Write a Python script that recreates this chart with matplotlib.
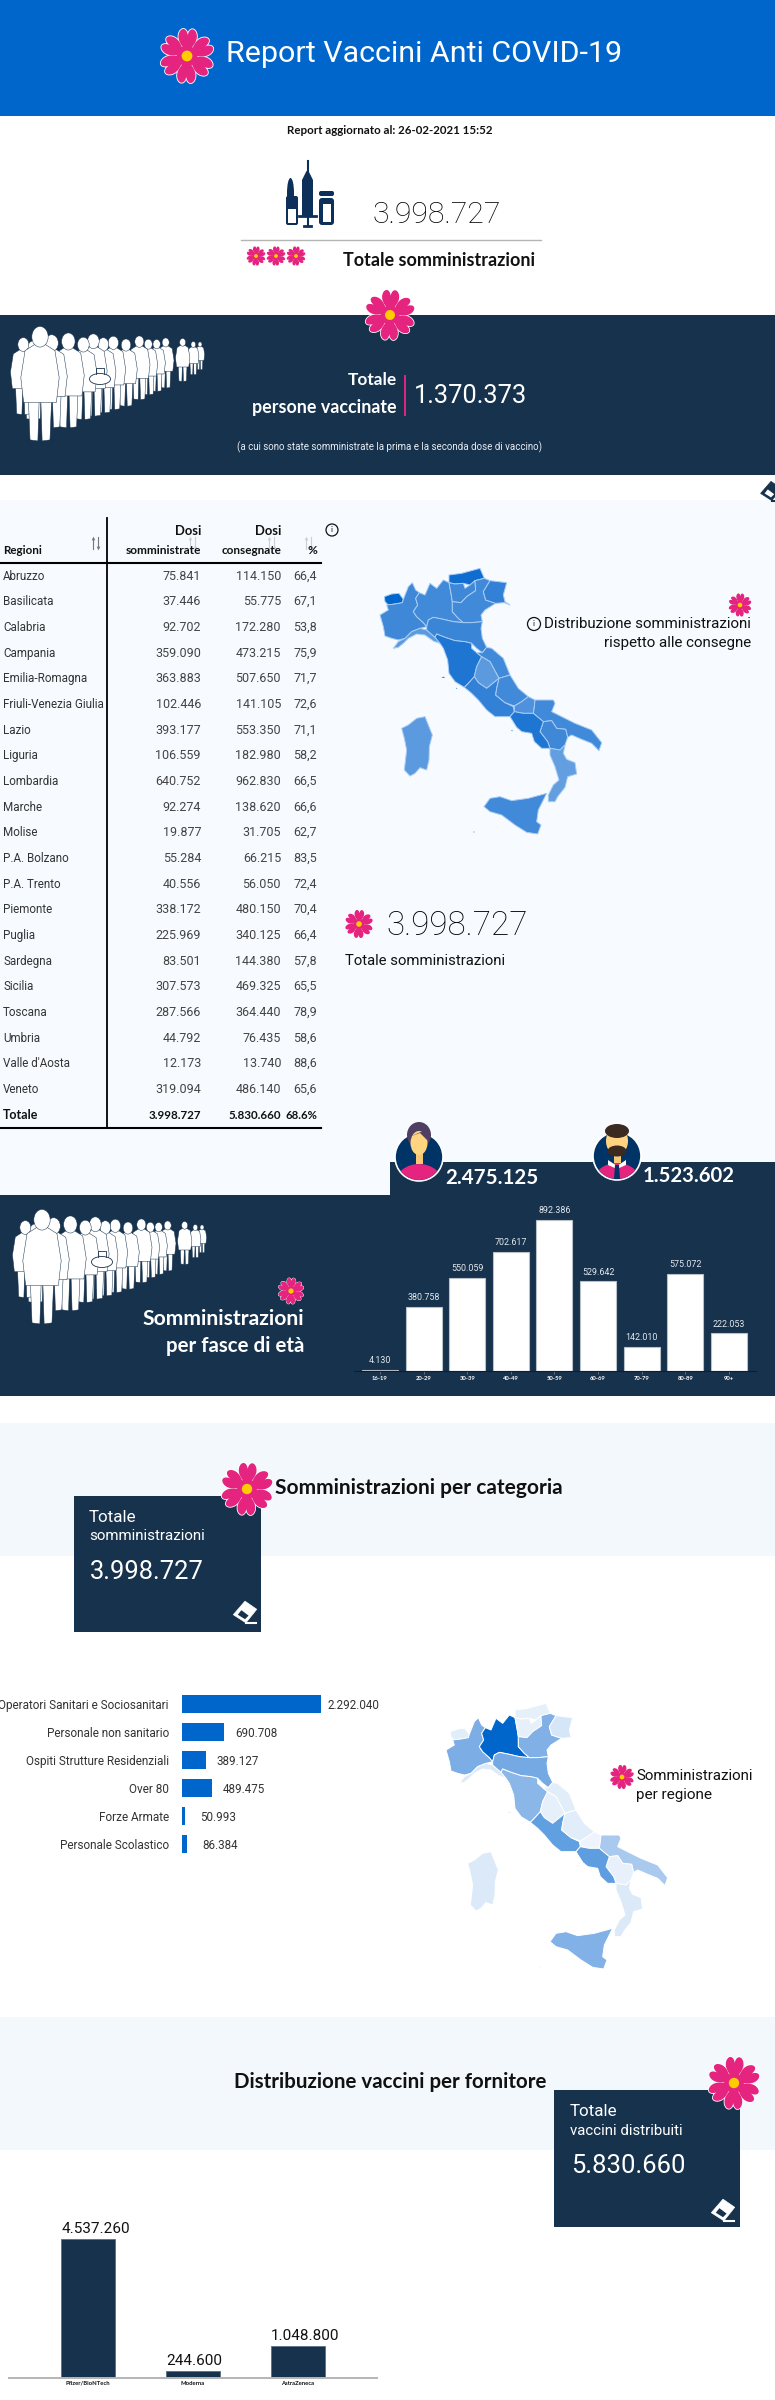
import numpy as np
import matplotlib; matplotlib.use("Agg")
import matplotlib.pyplot as plt
from matplotlib.patches import Polygon, Circle, Ellipse, Rectangle, FancyBboxPatch

W,H=775,2400
NAVY="#17324d"; BLUE="#0066cc"; PINK="#e5247f"; PALE="#f7fbff"; PALE2="#f3f8fc"
FONT=["Lato","DejaVu Sans"]
LIGHT=["Roboto","DejaVu Sans"]

# table data
regioni=["Abruzzo","Basilicata","Calabria","Campania","Emilia-Romagna","Friuli-Venezia Giulia","Lazio","Liguria","Lombardia","Marche","Molise","P.A. Bolzano","P.A. Trento","Piemonte","Puglia","Sardegna","Sicilia","Toscana","Umbria","Valle d'Aosta","Veneto"]
somministrate=[75841,37446,92702,359090,363883,102446,393177,106559,640752,92274,19877,55284,40556,338172,225969,83501,307573,287566,44792,12173,319094]
consegnate=[114150,55775,172280,473215,507650,141105,553350,182980,962830,138620,31705,66215,56050,480150,340125,144380,469325,364440,76435,13740,486140]
percentuali=["66,4","67,1","53,8","75,9","71,7","72,6","71,1","58,2","66,5","66,6","62,7","83,5","72,4","70,4","66,4","57,8","65,5","78,9","58,6","88,6","65,6"]
totale_somm=3998727; totale_cons=5830660; totale_pct="68.6%"
persone_vaccinate=1370373; donne=2475125; uomini=1523602

fasce=["16-19","20-29","30-39","40-49","50-59","60-69","70-79","80-89","90+"]
fasce_val=[4130,380758,550059,702617,892386,529642,142010,575072,222053]
categorie=["Operatori Sanitari e Sociosanitari","Personale non sanitario","Ospiti Strutture Residenziali","Over 80","Forze Armate","Personale Scolastico"]
categorie_val=[2292040,690708,389127,489475,50993,86384]
categorie_pad=[7,11,11,11,15,15]
fornitori=["Pfizer/BioNTech","Moderna","AstraZeneca"]
fornitori_val=[4537260,244600,1048800]

# regions, traced outlines (map units, 3 units = 1 px)
ITALIA={
"Valle d'Aosta":[(28,110),(50,102),(72,100),(85,118),(82,128),(60,132),(40,135),(30,125)],
"Piemonte":[(85,118),(100,80),(112,68),(122,90),(133,98),(122,115),(128,135),(115,155),(125,170),(145,188),(155,200),(135,205),(110,215),(90,235),(70,240),(50,235),(30,228),(25,200),(15,165),(40,150),(35,135),(60,132),(82,128)],
"Liguria":[(55,265),(70,245),(90,235),(110,215),(135,205),(155,210),(180,232),(195,250),(175,243),(150,225),(125,222),(100,235),(85,250),(70,262)],
"Lombardia":[(133,98),(150,105),(165,70),(185,85),(205,60),(222,68),(228,100),(232,125),(232,155),(250,175),(265,188),(235,185),(205,178),(175,172),(160,180),(155,200),(145,188),(125,170),(115,155),(128,135),(122,115)],
"P.A. Bolzano":[(222,45),(260,40),(315,25),(328,55),(300,62),(285,75),(265,70),(240,72),(222,68)],
"P.A. Trento":[(222,68),(240,72),(265,70),(270,85),(285,75),(300,62),(302,92),(275,110),(258,128),(232,125),(228,100)],
"Veneto":[(300,62),(328,55),(345,62),(325,95),(332,120),(362,130),(330,150),(318,165),(322,185),(290,188),(265,188),(250,175),(232,155),(232,125),(258,128),(275,110),(302,92)],
"Friuli-Venezia Giulia":[(345,62),(395,68),(385,105),(390,125),(405,135),(388,128),(362,130),(332,120),(325,95)],
"Emilia-Romagna":[(160,180),(175,172),(205,178),(235,185),(265,188),(290,188),(322,185),(318,205),(322,235),(335,262),(322,278),(305,265),(290,250),(270,245),(240,242),(210,232),(185,222),(180,232),(155,210),(155,200)],
"Toscana":[(180,232),(185,222),(210,232),(240,242),(270,245),(290,250),(290,265),(305,278),(320,290),(305,320),(298,350),(278,372),(268,382),(240,365),(222,340),(218,300),(205,265),(195,250)],
"Marche":[(322,278),(335,262),(350,265),(385,295),(405,345),(372,355),(345,305),(320,290),(305,278)],
"Umbria":[(320,290),(345,305),(372,355),(335,385),(310,368),(298,350),(305,320)],
"Lazio":[(268,382),(278,372),(298,350),(310,368),(335,385),(372,355),(365,385),(362,405),(390,428),(415,440),(418,455),(405,470),(360,470),(335,450),(310,420),(290,400)],
"Abruzzo":[(372,355),(405,345),(430,385),(460,410),(440,425),(418,438),(390,428),(362,405),(365,385)],
"Molise":[(460,410),(480,420),(478,440),(475,460),(445,460),(418,455),(418,438),(440,425)],
"Puglia":[(480,420),(535,420),(540,430),(530,455),(600,490),(650,510),(680,548),(672,572),(650,550),(620,538),(590,525),(578,532),(572,508),(545,505),(530,482),(505,485),(475,460),(478,440)],
"Basilicata":[(505,485),(530,482),(545,505),(572,508),(578,532),(570,555),(555,570),(525,565),(518,545),(495,515)],
"Campania":[(405,470),(418,455),(445,460),(475,460),(505,485),(495,515),(518,545),(525,565),(500,565),(478,545),(470,520),(440,515),(425,502)],
"Calabria":[(525,565),(555,570),(570,555),(565,580),(575,598),(600,608),(605,642),(578,650),(570,682),(548,710),(540,725),(520,725),(520,705),(535,675),(552,660),(540,620),(525,585)],
"Sicilia":[(327,740),(345,715),(375,710),(410,722),(460,715),(515,700),(490,750),(485,785),(498,795),(488,822),(455,817),(420,795),(380,765),(345,755)],
"Sardegna":[(80,505),(100,495),(125,475),(150,470),(160,495),(172,525),(163,560),(162,600),(155,630),(135,623),(120,640),(105,648),(88,630),(95,570),(88,535)],
}
isole=[(205,352,9,3),(411,512,4,3),(297,816,3,3),(245,385,3,3)]
colori1={"Valle d'Aosta":"#0066cc","P.A. Bolzano":"#0f6dcf","Toscana":"#1f75d2","Campania":"#1f75d2","Lazio":"#3281d6","Piemonte":"#3f88d8","Lombardia":"#4189d9","P.A. Trento":"#3f88d8","Veneto":"#4189d9","Friuli-Venezia Giulia":"#3281d6","Emilia-Romagna":"#3b85d7","Marche":"#4189d9","Abruzzo":"#4189d9","Molise":"#4f91dc","Puglia":"#4189d9","Basilicata":"#3f88d8","Sicilia":"#4189d9","Liguria":"#5b9ade","Umbria":"#5b9ade","Sardegna":"#5b9ade","Calabria":"#639fe0"}
colori2={"Lombardia":"#0066cc","Piemonte":"#7dade5","Valle d'Aosta":"#e2edfa","P.A. Bolzano":"#e6f0fb","P.A. Trento":"#e6f0fb","Veneto":"#80b0e6","Friuli-Venezia Giulia":"#d5e6f8","Liguria":"#dce9f9","Emilia-Romagna":"#75a9e3","Toscana":"#8ab6e8","Umbria":"#e6f0fb","Marche":"#e2edfa","Lazio":"#609fe0","Abruzzo":"#e2edfa","Molise":"#eef4fd","Campania":"#5e9de0","Puglia":"#a9c9ef","Basilicata":"#e8f1fb","Calabria":"#dce9f9","Sicilia":"#82b1e7","Sardegna":"#dce9f9"}

# queue of people: x, head y, feet y, back to front
CODA=[(600,72,150),(580,72,165),(548,65,185),(497,65,205),(470,70,215),(445,70,225),(418,62,240),(378,72,260),(340,65,270),(310,70,280),(280,60,290),(250,70,300),(205,60,325),(155,65,325),(100,80,300),(70,70,285),(120,45,365)]

fig=plt.figure(figsize=(W/100,H/100),dpi=100,facecolor="white")
plt.rcParams["font.family"]=FONT
ax=fig.add_axes([0,0,1,1]); ax.set_xlim(0,W); ax.set_ylim(H,0); ax.axis("off")
rend=fig.canvas.get_renderer()

def pxaxes(x0,y0,x1,y1):
    a=fig.add_axes([x0/W,1-y1/H,(x1-x0)/W,(y1-y0)/H]); a.patch.set_alpha(0); return a
def t(x,y,s,px=12,c="#111",ha="left",w=None,fw="normal",va="center",z=10):
    o=ax.text(x,y,s,fontsize=px*.72,color=c,ha=ha,va=va,fontweight=fw,zorder=z)
    if fw=="light":
        # Roboto Light is too pale for small text and for white on dark
        o.set_family(LIGHT)
        if px<20 or c=="white": o.set_fontweight("normal")
    if w: o.set_fontsize(o.get_fontsize()*w/o.get_window_extent(rend).width)
    return o
def fmt(v): return f"{v:,}".replace(",",".")
def box(x0,y0,x1,y1,c,z=1): ax.add_patch(Rectangle((x0,y0),x1-x0,y1-y0,fc=c,ec="none",zorder=z))

def fiore(cx,cy,r,z=6):
    tt=np.linspace(0,2*np.pi,60)
    hx=16*np.sin(tt)**3*.62/29; hy=(13*np.cos(tt)-5*np.cos(2*tt)-2*np.cos(3*tt)-np.cos(4*tt)+17)/29
    for k in range(6):
        a=np.deg2rad(k*60+2); px=hx*np.cos(a)+hy*np.sin(a); py=-hy*np.cos(a)+hx*np.sin(a)
        ax.add_patch(Polygon(np.c_[cx+r*px,cy+r*py],fc=PINK,ec="white",lw=max(.4,r/22),zorder=z))
    for k in range(6):
        a=np.deg2rad(k*60+2); px=hx*np.cos(a)+hy*np.sin(a); py=-hy*np.cos(a)+hx*np.sin(a)
        ax.add_patch(Polygon(np.c_[cx+r*px,cy+r*py],fc=PINK,ec="none",zorder=z+.1))
    ax.add_patch(Circle((cx,cy),r*.38,fc=PINK,ec="none",zorder=z+.2))
    ax.add_patch(Circle((cx,cy),r*.2,fc="#ffcc00",ec="none",zorder=z+.3))

def gomma(cx,cy,s=1,fg="white",bg=NAVY,z=7):
    # eraser icon, s=1 is about 26 px wide
    p=lambda pts:[(cx+a*s,cy+b*s) for a,b in pts]
    ax.add_patch(Polygon(p([(-13,3),(0,-12),(13,-3),(1,12)]),fc=fg,ec=fg,lw=.5,zorder=z))
    ax.add_patch(Polygon(p([(-8,3),(-4,-2),(4,4),(0,8)]),fc=bg,ec="none",zorder=z+.1))
    ax.plot([cx+1*s,cx+12*s],[cy+12*s,cy+12*s],color=fg,lw=1.5,zorder=z)

def frecce(x,y,c):
    # sort arrows in the table header
    for dx,y0,y1,m in [(-2.5,y+6,y-5,"^"),(2.5,y-6,y+5,"v")]:
        ax.plot([x+dx,x+dx],[y0,y1],color=c,lw=.8,zorder=2)
        ax.plot([x+dx],[y1],marker=m,ms=2.6,color=c,mew=0,zorder=2)

def coda(ox,oy):
    for zx,hy,fy in CODA:
        s=(fy-hy)/300; z=8
        fx=lambda v:ox+(zx+v*s)/3; fy2=lambda v:oy+(hy+v*s)/3
        legs=[(-34,150),(-28,295),(-6,298),(-2,170),(2,170),(6,298),(28,295),(34,150)]
        ax.add_patch(Polygon([(fx(a),fy2(b)) for a,b in legs],fc="white",ec=NAVY,lw=.35,zorder=z))
        body=[(-14,26),(-42,44),(-54,120),(-46,190),(46,190),(54,120),(42,44),(14,26)]
        ax.add_patch(Polygon([(fx(a),fy2(b)) for a,b in body],fc="white",ec=NAVY,lw=.35,zorder=z))
        ax.add_patch(Ellipse((fx(0),fy2(5)),46*s/3,58*s/3,fc="white",ec=NAVY,lw=.35,zorder=z))
    ax.add_patch(Ellipse((ox+100,oy+59),21,11,fc="white",ec=NAVY,lw=.6,zorder=8))
    ax.plot([ox+96,ox+96,ox+104,ox+104],[oy+54,oy+48,oy+48,oy+54],color=NAVY,lw=.6,zorder=8)

def mappa(x0,y0,colori,edge):
    a=pxaxes(x0,y0,x0+235,y0+300); a.set_xlim(0,705); a.set_ylim(900,0); a.axis("off")
    for nome,pts in ITALIA.items():
        a.add_patch(Polygon(pts,fc=colori[nome],ec=edge,lw=.7,joinstyle="round"))
    for x,y,wd,ht in isole:
        a.add_patch(Ellipse((x,y),wd,ht,fc=colori["Toscana"] if edge!="white" else "#dce9f9",ec="none"))
    return a

def avatar(cx,cy,donna):
    cl=Circle((cx,cy),23,transform=ax.transData)
    ax.add_patch(Circle((cx,cy),24,fc="#003366",ec="white",lw=1.2,zorder=7))
    b=Ellipse((cx,cy+25),46,36,fc=PINK,ec="none",zorder=7.1); ax.add_patch(b); b.set_clip_path(cl)
    ax.add_patch(Rectangle((cx-3.5,cy-5),7,12,fc="#f5c877",ec="none",zorder=7.2))
    if donna:
        ax.add_patch(Ellipse((cx,cy-22),24,26,fc="#4f3f63",ec="none",zorder=7.2))
        ax.add_patch(Ellipse((cx,cy-14),17,24,fc="#ffd480",ec="none",zorder=7.3))
        ax.add_patch(Polygon([(cx-10,cy-20),(cx+9,cy-28),(cx+10,cy-15),(cx+1,cy-24)],fc="#4f3f63",ec="none",zorder=7.4))
    else:
        ax.add_patch(Ellipse((cx,cy-15),22,28,fc="#ffd480",ec="none",zorder=7.3))
        ax.add_patch(Ellipse((cx,cy-25),24,14,fc="#3a2a20",ec="none",zorder=7.4))
        ax.add_patch(Ellipse((cx,cy-5),19,11,fc="#3a2a20",ec="none",zorder=7.4))
        ax.add_patch(Polygon([(cx-9,cy+4),(cx,cy+10),(cx+9,cy+4),(cx+9,cy+9),(cx,cy+13),(cx-9,cy+9)],fc="white",ec="none",zorder=7.5))
        ax.add_patch(Polygon([(cx-2,cy+9),(cx+2,cy+9),(cx+3,cy+23),(cx-3,cy+23)],fc="#003366",ec="none",zorder=7.6))

# background blocks
box(0,0,W,116,BLUE)
box(0,315,W,475,NAVY)
box(0,500,W,1195,PALE)
box(390,1162,W,1396,NAVY); box(0,1195,W,1396,NAVY)
box(0,1423,W,1556,PALE2)
box(74,1496,261,1632,NAVY,z=3)
box(0,2017,W,2150,PALE2)
box(554,2090,740,2227,NAVY,z=3)

# header
fiore(187,56,27)
t(226,54,"Report Vaccini Anti COVID-19",33,"white",w=396,fw="light")
t(390,131,"Report aggiornato al: 26-02-2021 15:52",11,"#111",ha="center",w=206,fw="bold")

# syringe and vials
DK="#0c3059"
ax.add_patch(FancyBboxPatch((286,196),12,29,boxstyle="round,pad=0,rounding_size=2",fc=DK,ec="none",zorder=3))
ax.add_patch(Ellipse((290.5,193),7,30,fc=DK,ec="none",zorder=3))
ax.add_patch(Rectangle((288,209),8,14,fc="white",ec="none",zorder=4))
ax.add_patch(Rectangle((302,180),11,37,fc=DK,ec="none",zorder=3))
ax.add_patch(Polygon([(302,180),(313,180),(308.5,171),(306.5,171)],fc=DK,ec="none",zorder=3))
ax.plot([307.5,307.5],[161,226],color=DK,lw=1.5,zorder=3)
ax.plot([299,316],[216,216],color=DK,lw=2,zorder=3)
ax.plot([304,311],[225.5,225.5],color=DK,lw=2,zorder=3)
ax.add_patch(FancyBboxPatch((319,198),15,27,boxstyle="round,pad=0,rounding_size=3",fc=DK,ec="none",zorder=3))
ax.add_patch(FancyBboxPatch((319,198-7),15,5,boxstyle="round,pad=0,rounding_size=2",fc=DK,ec="none",zorder=3))
ax.add_patch(Rectangle((322.5,204),8,18,fc="white",ec="none",zorder=4))

t(372,215,fmt(totale_somm),33,"#000",w=129,fw="light")
ax.plot([241,541],[240,240],color="#b5b5b5",lw=1,zorder=3)
for x in [256,276,296]: fiore(x,256,9.5)
t(343,260,"Totale somministrazioni",22,"#111",w=191,fw="bold")

# band persone vaccinate
fiore(390,315,25)
coda(0,320)
t(397,380,"Totale",21,"white",ha="right",w=49,fw="bold")
t(397,407,"persone vaccinate",21,"white",ha="right",w=144,fw="bold")
ax.plot([405,405],[376,415],color=PINK,lw=1.4,zorder=5)
t(414,396,fmt(persone_vaccinate),29,"white",w=113,fw="light")
t(390,447,"(a cui sono state somministrate la prima e la seconda dose di vaccino)",11,"#e8edf2",ha="center",w=307,fw="light")
gomma(771,491,.8,fg=NAVY,bg="white")

# table
ROW0=576; DY=25.67
ax.plot([107,107],[518,1128],color="black",lw=1.3,zorder=4)
ax.plot([0,321],[563,563],color="black",lw=1.5,zorder=4)
ax.plot([0,321],[1128,1128],color="black",lw=1.5,zorder=4)
t(3,550,"Regioni",13,"#111",fw="bold",w=39)
t(201,531,"Dosi",13,"#111",ha="right",fw="bold")
t(201,550,"somministrate",13,"#111",ha="right",fw="bold",w=76)
t(281,531,"Dosi",13,"#111",ha="right",fw="bold")
t(281,550,"consegnate",13,"#111",ha="right",fw="bold",w=60)
t(317,550,"%",12,"#111",ha="right",fw="bold")
frecce(95,543,"#777")
for x in [192,271,308]: frecce(x,543,"#c8d0d8")
ax.add_patch(Circle((332,530),6,fc="none",ec="#111",lw=.9,zorder=4)); t(332,530,"i",8,"#111",ha="center")
for i,r in enumerate(regioni):
    y=ROW0+DY*i
    t(3,y,r,11.6,"#333",fw="light")
    t(201,y,fmt(somministrate[i]),12.5,"#444",ha="right",fw="light")
    t(281,y,fmt(consegnate[i]),12.5,"#444",ha="right",fw="light")
    t(317,y,percentuali[i],12.5,"#444",ha="right",fw="light")
y=ROW0+DY*21
t(3,y,"Totale",12.5,"#111",fw="bold")
t(201,y,fmt(totale_somm),12.5,"#111",ha="right",fw="bold",w=53)
t(281,y,fmt(totale_cons),12.5,"#111",ha="right",fw="bold",w=53)
t(317,y,totale_pct,12.5,"#111",ha="right",fw="bold",w=32)

# map 1
mappa(375,560,colori1,"#a9cdf2")
fiore(740,605,11.5)
t(751,624,"Distribuzione somministrazioni",19,"#111",ha="right",w=208,fw="light")
t(751,643,"rispetto alle consegne",19,"#111",ha="right",w=148,fw="light")
ax.add_patch(Circle((534,624),6.5,fc="none",ec="#111",lw=.9,zorder=4)); t(534,624,"i",8,"#111",ha="center")
fiore(359,924,14)
t(386,926,fmt(totale_somm),33,"#000",w=142,fw="light")
t(345,961,"Totale somministrazioni",19,"#111",w=160,fw="light")

# band fasce di eta
avatar(419,1157,True); avatar(617,1156,False)
t(445,1178,fmt(donne),24,"white",w=93,fw="bold")
t(643,1176,fmt(uomini),24,"white",w=92,fw="bold")
coda(2,1203)
fiore(291,1291,13)
t(304,1319,"Somministrazioni",24,"white",ha="right",w=162,fw="bold")
t(304,1346,"per fasce di età",24,"white",ha="right",w=139,fw="bold")

a=pxaxes(354,1215,756,1371)
a.bar(range(len(fasce)),fasce_val,width=.826,color="white",edgecolor="#b8c0c8",linewidth=.8)
a.set_xlim(-.596,8.62); a.set_ylim(0,892386*156/151)
for s in ["top","left","right"]: a.spines[s].set_visible(False)
a.spines["bottom"].set_color("#0c1e30"); a.yaxis.set_visible(False)
a.set_xticks(range(len(fasce))); a.set_xticklabels(fasce,fontsize=4.2,color="white",fontweight="bold")
a.tick_params(axis="x",length=2,width=.5,color="#888",pad=1.5)
for i,v in enumerate(fasce_val):
    a.annotate(fmt(v),(i,v),xytext=(0,3.5),textcoords="offset points",ha="center",va="bottom",fontsize=6.4,color="#e4e9ee",family=LIGHT)

# categorie
fiore(247,1489,26)
t(275,1488,"Somministrazioni per categoria",24,"#111",w=287,fw="bold")
t(89,1517,"Totale",17,"white",z=5,fw="light")
t(89,1536,"somministrazioni",17,"white",w=117,z=5,fw="light")
t(90,1572,fmt(totale_somm),29,"white",w=114,z=5,fw="light")
gomma(245,1612,.9)

a=pxaxes(182,1690,321,1858)
a.barh(range(len(categorie)),categorie_val,height=.62,color=BLUE)
a.set_xlim(0,max(categorie_val)); a.set_ylim(5.5,-.5)
a.set_yticks(range(len(categorie))); a.set_yticklabels(categorie,fontsize=8.5,color="#333",family=LIGHT)
a.xaxis.set_visible(False); a.tick_params(axis="y",length=0,pad=9.4)
for s in a.spines.values(): s.set_visible(False)
for i,v in enumerate(categorie_val):
    a.annotate(fmt(v),(v,i),xytext=(categorie_pad[i]*.72,-1.2),textcoords="offset points",ha="left",va="center",fontsize=8.4,color="#333",annotation_clip=False,family=LIGHT)

# map 2
mappa(441,1695,colori2,"white")
fiore(622,1777,12)
t(636,1776,"Somministrazioni",19,"#111",w=117,fw="light")
t(636,1795,"per regione",19,"#111",w=76,fw="light")

# fornitori
t(234,2082,"Distribuzione vaccini per fornitore",24,"#111",w=312,fw="bold")
fiore(734,2083,26)
t(570,2112,"Totale",17,"white",z=5,fw="light")
t(570,2131,"vaccini distribuiti",17,"white",w=113,z=5,fw="light")
t(571,2166,fmt(totale_cons),29,"white",w=114,z=5,fw="light")
gomma(723,2210,.9)

a=pxaxes(9,2235,377,2378)
a.bar(range(len(fornitori)),fornitori_val,width=.51,color=NAVY,edgecolor="#5c6f82",linewidth=.6)
a.set_xlim(-.752,2.752); a.set_ylim(0,4537260*143/139)
for s in ["top","left","right"]: a.spines[s].set_visible(False)
a.spines["bottom"].set_color("#b5b5b5"); a.spines["bottom"].set_linewidth(1.4); a.yaxis.set_visible(False)
a.set_xticks(range(len(fornitori))); a.set_xticklabels(fornitori,fontsize=4.2,color="#111",fontweight="bold")
a.tick_params(axis="x",length=0,pad=2)
for i,v in enumerate(fornitori_val):
    a.annotate(fmt(v),(i-.255,v),xytext=(0,2),textcoords="offset points",ha="left",va="bottom",fontsize=11,color="#111",annotation_clip=False,family=LIGHT)

fig.savefig("out.png",dpi=100)
